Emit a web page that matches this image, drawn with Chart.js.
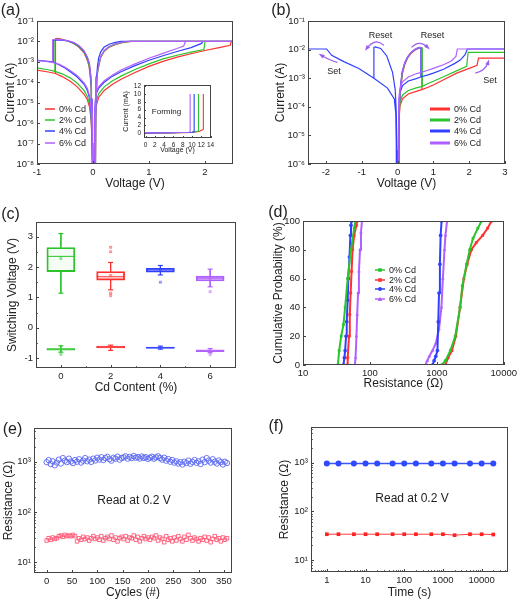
<!DOCTYPE html>
<html>
<head>
<meta charset="utf-8">
<script src="https://cdn.jsdelivr.net/npm/chart.js@4.4.1/dist/chart.umd.min.js"></script>
<style>
  body { margin: 0; background: #fff; }
  #page { position: relative; width: 520px; height: 602px; overflow: hidden; font-family: 'Liberation Sans', Arial, sans-serif; color: #222; }
  canvas { position: absolute; }
  .tx { position: absolute; white-space: nowrap; line-height: 1; transform: translate(-50%, -50%); }
  .lg { position: absolute; white-space: nowrap; line-height: 1; font-size: 9px; transform: translateY(-50%); }
  .lg svg { vertical-align: middle; margin-right: 4px; }
</style>
</head>
<body>
<div id="page">
  <canvas id="cA" width="260" height="200" style="left:0;top:0"></canvas>
  <canvas id="cIn" width="100" height="80" style="left:118px;top:78px"></canvas>
  <canvas id="cB" width="260" height="200" style="left:260px;top:0"></canvas>
  <canvas id="cC" width="260" height="200" style="left:0;top:200px"></canvas>
  <canvas id="cD" width="260" height="200" style="left:260px;top:200px"></canvas>
  <canvas id="cE" width="260" height="202" style="left:0;top:400px"></canvas>
  <canvas id="cF" width="260" height="202" style="left:260px;top:400px"></canvas>

  <div class="tx" style="left:10.5px;top:10px;font-size:16px">(a)</div>
  <div class="tx" style="left:281px;top:10px;font-size:16px">(b)</div>
  <div class="tx" style="left:10.5px;top:214px;font-size:16px">(c)</div>
  <div class="tx" style="left:278px;top:211.5px;font-size:16px">(d)</div>
  <div class="tx" style="left:12.5px;top:429px;font-size:16px">(e)</div>
  <div class="tx" style="left:276px;top:425.5px;font-size:16px">(f)</div>

  <div class="tx" style="left:166.5px;top:111.5px;font-size:8px">Forming</div>
  <div class="tx" style="left:380.5px;top:34.5px;font-size:9px">Reset</div>
  <div class="tx" style="left:432.5px;top:34.5px;font-size:9px">Reset</div>
  <div class="tx" style="left:334px;top:70.5px;font-size:9px">Set</div>
  <div class="tx" style="left:490px;top:80px;font-size:9px">Set</div>
  <div class="tx" style="left:134px;top:500px;font-size:12px">Read at 0.2 V</div>
  <div class="tx" style="left:412px;top:497.5px;font-size:12px">Read at 0.2 V</div>
</div>
<script>
Chart.defaults.font.family = "'Liberation Sans', Arial, sans-serif";
Chart.defaults.color = '#222';

const RED = '#ff3030', GREEN = '#2cc42c', BLUE = '#3040ff', PURPLE = '#b060ff';
const legendLabels = ['0% Cd', '2% Cd', '4% Cd', '6% Cd'];

// ---- (a) I-V, semilog ----
const aVTicks = [-1, 0, 1, 2];
const aITicks = [1e-8, 1e-7, 1e-6, 1e-5, 1e-4, 1e-3, 1e-2, 1e-1];
const aIV0 = [[-0.003,1e-9],[-0.008,1e-7],[-0.012,1e-6],[-0.02,1e-5],[-0.03,4e-5],[-0.045,1.5e-4],[-0.07,6e-4],[-0.1,1.2e-3],[-0.16,2.8e-3],[-0.25,5.2e-3],[-0.34,7.8e-3],[-0.45,1.05e-2],[-0.55,1.25e-2],[-0.63,1.4e-2],[-0.67,1.35e-2],[-0.67,2.7e-4], null,
  [-1.02,4e-4],[-0.8,3.2e-4],[-0.67,2.7e-4],[-0.55,1.9e-4],[-0.4,1.1e-4],[-0.28,6e-5],[-0.16,2.6e-5],[-0.1,1.4e-5],[-0.06,6e-6],[-0.035,1.5e-6],[-0.02,2e-7],[-0.01,1e-8],[-0.005,1e-9], null,
  [0.02,1e-9],[0.028,1e-7],[0.035,1e-6],[0.05,6e-6],[0.1,1.8e-5],[0.2,4e-5],[0.35,8e-5],[0.5,1.4e-4],[0.75,3e-4],[1.0,6e-4],[1.25,1.05e-3],[1.5,1.7e-3],[1.75,2.5e-3],[2.0,3.6e-3],[2.25,5e-3],[2.45,6.5e-3],[2.47,1e-2],[2.52,1e-2], null,
  [2.52,1e-2],[0.68,1e-2],[0.5,8.5e-3],[0.38,6.8e-3],[0.28,5e-3],[0.2,3.3e-3],[0.14,1.7e-3],[0.11,8e-4],[0.085,3.5e-4],[0.07,1.5e-4],[0.06,3e-5],[0.05,2e-6],[0.045,1e-7],[0.04,1e-9]];
const aIV2 = [[-0.003,1e-9],[-0.008,1e-7],[-0.012,1.2e-6],[-0.02,1.2e-5],[-0.03,5e-5],[-0.045,1.8e-4],[-0.07,7e-4],[-0.1,1.3e-3],[-0.16,3e-3],[-0.25,5.5e-3],[-0.34,8e-3],[-0.45,1.05e-2],[-0.55,1.2e-2],[-0.64,1.3e-2],[-0.68,1.25e-2],[-0.68,3.4e-4], null,
  [-1.02,5.2e-4],[-0.8,4.1e-4],[-0.68,3.4e-4],[-0.55,2.6e-4],[-0.4,1.6e-4],[-0.28,9e-5],[-0.16,4e-5],[-0.1,2e-5],[-0.06,8e-6],[-0.035,2e-6],[-0.02,3e-7],[-0.01,1e-8],[-0.005,1e-9], null,
  [0.018,1e-9],[0.026,1e-7],[0.033,1.5e-6],[0.05,1e-5],[0.1,2.7e-5],[0.2,6e-5],[0.35,1.2e-4],[0.5,2e-4],[0.75,4.2e-4],[1.0,8e-4],[1.25,1.4e-3],[1.5,2.1e-3],[1.75,3e-3],[1.98,4e-3],[2.0,1e-2],[2.52,1e-2], null,
  [2.52,1e-2],[0.66,1e-2],[0.5,8.7e-3],[0.38,7e-3],[0.28,5.2e-3],[0.2,3.4e-3],[0.14,1.8e-3],[0.11,8.5e-4],[0.085,3.8e-4],[0.07,1.6e-4],[0.06,3.5e-5],[0.05,2e-6],[0.045,1e-7],[0.04,1e-9]];
const aIV4 = [[-0.003,1e-9],[-0.007,1e-7],[-0.011,1.5e-6],[-0.018,1.5e-5],[-0.028,6e-5],[-0.04,2e-4],[-0.065,8e-4],[-0.1,1.6e-3],[-0.16,3.4e-3],[-0.25,6e-3],[-0.34,8.5e-3],[-0.45,1.05e-2],[-0.55,1.15e-2],[-0.65,1.2e-2],[-0.71,1.15e-2],[-0.71,1e-3], null,
  [-1.02,1.2e-3],[-0.85,1.1e-3],[-0.71,1e-3],[-0.6,7e-4],[-0.5,5e-4],[-0.4,3.2e-4],[-0.28,1.8e-4],[-0.16,8e-5],[-0.1,4e-5],[-0.06,1.6e-5],[-0.035,4e-6],[-0.02,4e-7],[-0.01,1e-8],[-0.005,1e-9], null,
  [0.015,1e-9],[0.022,1e-7],[0.03,3e-6],[0.05,2.5e-5],[0.1,5e-5],[0.2,1e-4],[0.35,2e-4],[0.5,3.3e-4],[0.75,6.5e-4],[1.0,1.2e-3],[1.25,2e-3],[1.5,3.2e-3],[1.75,5e-3],[1.94,8e-3],[1.96,1e-2],[2.52,1e-2], null,
  [2.52,1e-2],[0.5,1e-2],[0.4,9e-3],[0.3,7.5e-3],[0.2,5.3e-3],[0.14,3.2e-3],[0.1,1.5e-3],[0.08,6e-4],[0.065,2e-4],[0.055,4e-5],[0.045,2e-6],[0.04,1e-7],[0.035,1e-9]];
const aIV6 = [[-0.003,1e-9],[-0.007,1e-7],[-0.011,1.5e-6],[-0.018,1.6e-5],[-0.028,7e-5],[-0.04,2.2e-4],[-0.065,8.5e-4],[-0.1,1.7e-3],[-0.16,3.5e-3],[-0.25,6.2e-3],[-0.34,8.8e-3],[-0.45,1.1e-2],[-0.55,1.2e-2],[-0.65,1.25e-2],[-0.72,1.2e-2],[-0.72,9.5e-4], null,
  [-1.02,1.15e-3],[-0.85,1.05e-3],[-0.72,9.5e-4],[-0.6,7.5e-4],[-0.5,5.5e-4],[-0.4,3.7e-4],[-0.28,2.1e-4],[-0.16,9.5e-5],[-0.1,5e-5],[-0.06,2e-5],[-0.035,5e-6],[-0.02,5e-7],[-0.01,1e-8],[-0.005,1e-9], null,
  [0.015,1e-9],[0.022,1e-7],[0.03,3e-6],[0.05,3e-5],[0.1,6e-5],[0.2,1.2e-4],[0.35,2.3e-4],[0.5,4e-4],[0.75,8e-4],[1.0,1.5e-3],[1.25,2.6e-3],[1.5,4.5e-3],[1.62,6e-3],[1.65,1e-2],[2.52,1e-2], null,
  [2.52,1e-2],[0.62,1e-2],[0.5,9e-3],[0.38,7.3e-3],[0.28,5.5e-3],[0.2,3.6e-3],[0.14,1.9e-3],[0.11,9e-4],[0.085,4e-4],[0.07,1.7e-4],[0.06,3.5e-5],[0.05,2e-6],[0.045,1e-7],[0.04,1e-9]];

// inset: forming, linear mA
const inVTicks = [0, 2, 4, 6, 8, 10, 12, 14];
const inITicks = [0, 2, 4, 6, 8, 10, 12];
const inF0 = [[0,0.05],[5,0.08],[10,0.2],[11.5,0.45],[12.3,0.9],[12.45,1.0],[12.45,10]];
const inF2 = [[0,0.06],[5,0.1],[10,0.25],[11.1,0.5],[11.4,0.6],[11.4,10]];
const inF4 = [[0,0.1],[5,0.12],[10,0.25],[10.47,0.4],[10.47,10]];
const inF6 = [[0,0.1],[5,0.13],[9.3,0.25],[9.6,0.35],[9.6,10]];

// ---- (b) I-V, 4% Cd both polarities ----
const bVTicks = [-2, -1, 0, 1, 2, 3];
const bITicks = [1e-6, 1e-5, 1e-4, 1e-3, 1e-2, 1e-1];
const bIV0 = [[0.02,1e-7],[0.03,3e-6],[0.04,2e-5],[0.06,1.2e-4],[0.09,5e-4],[0.14,1.5e-3],[0.2,3e-3],[0.28,5e-3],[0.38,7.5e-3],[0.48,9.5e-3],[0.58,1.1e-2],[0.64,1.15e-2],[0.68,1.1e-2],[0.68,4e-4], null,
  [0.035,1e-7],[0.045,1e-5],[0.05,5e-5],[0.07,1.1e-4],[0.14,1.9e-4],[0.3,2.8e-4],[0.5,3.4e-4],[0.68,4e-4],[0.85,4.8e-4],[1.0,5.8e-4],[1.3,9e-4],[1.65,1.5e-3],[2.0,2.2e-3],[2.22,2.8e-3],[2.26,5e-3],[3.1,5e-3]];
const bIV2 = [[0.018,1e-7],[0.028,3e-6],[0.038,2.2e-5],[0.058,1.3e-4],[0.09,5.5e-4],[0.14,1.6e-3],[0.2,3.2e-3],[0.28,5.3e-3],[0.38,7.8e-3],[0.48,9.8e-3],[0.58,1.12e-2],[0.65,1.2e-2],[0.69,1.15e-2],[0.69,5.2e-4], null,
  [0.03,1e-7],[0.04,1.5e-5],[0.05,7e-5],[0.07,1.5e-4],[0.14,2.6e-4],[0.3,3.7e-4],[0.5,4.5e-4],[0.69,5.2e-4],[0.85,6.5e-4],[1.0,7.8e-4],[1.3,1.15e-3],[1.6,1.7e-3],[1.93,2.6e-3],[1.97,8e-3],[3.1,8e-3]];
const bIV4 = [[0.015,1e-7],[0.025,4e-6],[0.035,3e-5],[0.055,1.6e-4],[0.085,6e-4],[0.13,1.7e-3],[0.2,3.5e-3],[0.28,5.6e-3],[0.38,8e-3],[0.48,1e-2],[0.57,1.15e-2],[0.62,1.2e-2],[0.65,1.15e-2],[0.65,1.1e-3], null,
  [0.025,1e-7],[0.033,3e-5],[0.045,1.5e-4],[0.07,3.2e-4],[0.14,5.5e-4],[0.3,8e-4],[0.5,9.5e-4],[0.65,1.1e-3],[0.85,1.3e-3],[1.0,1.5e-3],[1.3,2.1e-3],[1.6,3.3e-3],[1.75,4.3e-3],[1.88,6.5e-3],[1.95,1.05e-2],[3.1,1.05e-2], null,
  [-0.025,1e-7],[-0.035,5e-6],[-0.05,6e-5],[-0.09,1.9e-4],[-0.28,4.5e-4],[-0.66,1e-3],[-1.08,2.2e-3],[-1.5,3.8e-3],[-1.84,6.3e-3],[-1.98,1.05e-2],[-2.6,1.05e-2], null,
  [-0.66,1e-3],[-0.66,1.2e-2],[-0.62,1.25e-2],[-0.47,1.1e-2],[-0.3,6e-3],[-0.14,1.6e-3],[-0.065,4e-4],[-0.035,6e-5],[-0.015,3e-6],[-0.008,1e-7]];
const bIV6 = [[0.016,1e-7],[0.026,3.5e-6],[0.036,2.5e-5],[0.056,1.5e-4],[0.088,6e-4],[0.135,1.7e-3],[0.2,3.4e-3],[0.28,5.5e-3],[0.38,8e-3],[0.48,1e-2],[0.57,1.15e-2],[0.63,1.2e-2],[0.66,1.15e-2],[0.66,1.6e-3], null,
  [0.022,1e-7],[0.03,4e-5],[0.04,2e-4],[0.07,4.5e-4],[0.14,7.5e-4],[0.3,1.1e-3],[0.5,1.4e-3],[0.66,1.6e-3],[0.85,1.9e-3],[1.0,2.2e-3],[1.3,3e-3],[1.5,4e-3],[1.63,5.8e-3],[1.67,1.05e-2],[3.1,1.05e-2]];
// curved hint arrows: [x0, y0, xc, yc, x1, y1] in data units
const bArrows = [[-0.38,1.4e-2,-0.63,2.7e-2,-0.86,1.1e-2],[0.39,1.2e-2,0.61,2.3e-2,0.84,1.2e-2],
                 [-1.68,3.6e-3,-1.87,4e-3,-2.13,6.3e-3],[2.17,1.5e-3,2.45,1.8e-3,2.53,3.6e-3]];

// ---- (c) switching voltage box plot ----
const cCd = [0, 2, 4, 6];
const cVTicks = [-1, 0, 1, 2, 3];
const cSetMin = [1.14, 1.25, 1.74, 1.35];
const cSetQ1  = [1.85, 1.57, 1.83, 1.54];
const cSetMed = [2.35, 1.68, 1.90, 1.63];
const cSetQ3  = [2.64, 1.85, 1.96, 1.70];
const cSetMax = [3.10, 2.15, 2.05, 1.93];
const cSetMean = [2.28, 1.72, 1.90, 1.62];
const cSetOut = [[], [2.65, 2.50, 1.14, 1.06], [1.50], [1.19]];
const cResMin = [-0.80, -0.74, -0.70, -0.82];
const cResQ1  = [-0.73, -0.66, -0.68, -0.78];
const cResMed = [-0.70, -0.63, -0.65, -0.75];
const cResQ3  = [-0.68, -0.60, -0.63, -0.72];
const cResMax = [-0.59, -0.57, -0.60, -0.68];
const cResOut = [[-0.87], [], [], [-0.88]];

// ---- (d) cumulative probability ----
const dRTicks = [10, 100, 1000, 10000];
const dPTicks = [0, 20, 40, 60, 80, 100];
const dLrs0 = [[33.2,0],[34.7,10],[37.2,20],[40.2,28],[42.6,40],[46.5,60],[52.1,80],[58.1,95],[60.8,100]];
const dLrs2 = [[45.5,0],[46.5,5],[48.7,20],[50,35],[51.5,50],[53.2,65],[55,80],[58.1,90],[62.9,97],[64.4,100]];
const dLrs4 = [[40.2,0],[41.5,5],[42.6,10],[44,20],[45,30],[46.5,45],[47.6,60],[49.5,75],[51,90],[52.1,97],[53.2,100]];
const dLrs6 = [[59.5,0],[61,5],[62.9,20],[64.5,35],[66.5,50],[68.5,65],[71.1,80],[73.5,92],[76,100]];
const dHrs0 = [[1180,0],[1340,3],[1590,10],[1880,20],[2220,40],[2400,55],[2780,70],[3100,80],[3470,88],[4100,95],[4650,100]];
const dHrs2 = [[1340,0],[1470,5],[1680,10],[1920,20],[2220,40],[2535,60],[2835,70],[3280,80],[3875,85],[4840,90],[5730,95],[6550,100]];
const dHrs4 = [[861,0],[910,3],[964,6],[1019,10],[1050,30],[1077,50],[1110,70],[1138,90],[1177,100]];
const dHrs6 = [[675,0],[720,3],[771,6],[860,10],[964,15],[1077,25],[1170,40],[1230,60],[1300,80],[1344,90],[1420,100]];

// ---- (e) endurance ----
const eCycleTicks = [0, 50, 100, 150, 200, 250, 300, 350];
const eRTicks = [10, 100, 1000];
const eCycles = Array.from({ length: 90 }, (_, i) => i * 4);
const eHrs = [980,1080,900,1020,850,960, 1100,920,1180,1050,980,1150,1010,
  940,1080,1000,1120,960,1050,1180,1020,1100,990,1150,1060,
  1200,1100,1230,1080,1180,1250,1120,1050,1200,1150,1260,1100,1190,
  1220,1280,1150,1250,1180,1300,1200,1240,1160,1270,1190,1230,1140,
  1200,1260,1150,1220,1280,1180,1100,1200,1050,1130,1000,1080,
  960,1020,920,980,880,1000,940,1050,910,990,1080,950,
  1020,900,1100,980,1180,1050,960,1120,1000,920,1060,980,880,1000,940];
const eLrs = [27,30,28,31,29,30, 33,34,32,35,33,34,33,
  35,33,26,30,28,32,29,31,27,30,33,29,
  31,28,33,27,30,32,29,34,28,31,26,30,32,
  29,33,27,31,30,34,28,32,26,30,33,29,31,
  28,32,30,34,27,31,29,25,33,28,30,26,
  31,27,33,29,26,32,28,35,30,27,31,29,
  26,30,28,32,27,31,25,29,33,28,30,26,31,28,30];

// ---- (f) retention ----
const fTimeTicks = [1, 10, 100, 1000, 10000];
const fRTicks = [10, 100, 1000];
const fTime = [1, 2, 5, 10, 20, 50, 100, 200, 500, 1000, 2000, 5000, 10000, 20000];
const fHrs = [960, 960, 960, 960, 960, 960, 960, 960, 960, 960, 960, 960, 960, 960];
const fLrs = [34, 34, 34, 34, 34, 34, 34, 34, 34, 34, 32.5, 34, 34, 33.5];

// ---------- helpers ----------
const SUP = { '-': '⁻', '0': '⁰', '1': '¹', '2': '²', '3': '³', '4': '⁴', '5': '⁵', '6': '⁶', '7': '⁷', '8': '⁸', '9': '⁹' };
const pow10 = v => '10' + String(Math.round(Math.log10(v))).replace(/./g, c => SUP[c]);
const xy = a => a.map(p => p ? { x: p[0], y: p[1] } : { x: null, y: null });
const logMinor = (lo, hi) => { const r = []; for (let d = 1e-9; d < hi; d *= 10) for (let k = 2; k < 10; k++) { const v = k * d; if (v > lo && v < hi) r.push(v); } return r; };

function axis(type, min, max, ticks, size, title, pad, fmt, fs, tfs) {
  return {
    type, min, max, bounds: 'data', offset: false,
    grid: { display: false, drawTicks: false },
    border: { display: false },
    afterBuildTicks: s => { s.ticks = ticks.map(v => ({ value: v })); },
    afterFit: s => { if (s.isHorizontal()) s.height = size; else s.width = size; },
    ticks: { autoSkip: false, maxRotation: 0, padding: 3, color: '#222', font: { size: fs || 9.5 }, callback: fmt || (v => v) },
    title: { display: !!title, text: title, color: '#222', font: { size: tfs || 12 }, padding: pad }
  };
}

const curve = (data, color, w) => ({ data: xy(data), showLine: true, borderColor: color, borderWidth: w || 1.2, pointRadius: 0, spanGaps: false, tension: 0 });

// frame + inward ticks, drawn from the chart's own scales
const frame = {
  id: 'frame',
  afterDatasetsDraw(chart, args, o) {
    const { ctx, chartArea: a } = chart;
    const x = chart.scales.x, y = chart.scales.y, L = o.len || 3;
    ctx.save();
    ctx.strokeStyle = '#444'; ctx.lineWidth = 1;
    ctx.beginPath();
    const tx = (v, len) => { if (v < x.min || v > x.max) return; const p = Math.round(x.getPixelForValue(v)) + 0.5; ctx.moveTo(p, a.bottom); ctx.lineTo(p, a.bottom - len); };
    const ty = (v, len) => { if (v < y.min || v > y.max) return; const p = Math.round(y.getPixelForValue(v)) + 0.5; ctx.moveTo(a.left, p); ctx.lineTo(a.left + len, p); };
    x.ticks.forEach(t => tx(t.value, L));
    y.ticks.forEach(t => ty(t.value, L));
    (o.mx || []).forEach(v => tx(v, L * 0.6));
    (o.my || []).forEach(v => ty(v, L * 0.6));
    ctx.stroke();
    ctx.strokeRect(Math.round(a.left) + 0.5, Math.round(a.top) + 0.5, Math.round(a.right - a.left) - 1, Math.round(a.bottom - a.top) - 1);
    ctx.restore();
  }
};
Chart.register(frame);

function make(id, type, datasets, sx, sy, pad, fr, extra) {
  return new Chart(document.getElementById(id), {
    type, data: { datasets },
    options: {
      responsive: false, animation: false, devicePixelRatio: 1, events: [],
      layout: { padding: pad },
      scales: { x: sx, y: sy },
      plugins: { legend: { display: false }, tooltip: { enabled: false }, frame: fr || {} }
    },
    plugins: extra || []
  });
}

const page = document.getElementById('page');
function legend(x, y, dy, w, thick, colors, marks) {
  legendLabels.forEach((t, i) => {
    const c = colors[i];
    let m = '';
    if (marks) {
      const cx = w / 2;
      if (marks[i] === 'circle') m = `<circle cx="${cx}" cy="3.5" r="2" fill="${c}"/>`;
      else if (marks[i] === 'triangle') m = `<polygon points="${cx - 2.3},5.5 ${cx + 2.3},5.5 ${cx},1.3" fill="${c}"/>`;
      else m = `<rect x="${cx - 1.8}" y="1.7" width="3.6" height="3.6" fill="${c}"/>`;
    }
    const d = document.createElement('div');
    d.className = 'lg';
    d.style.left = x + 'px';
    d.style.top = (y + i * dy) + 'px';
    d.innerHTML = `<svg width="${w}" height="7"><line x1="0" y1="3.5" x2="${w}" y2="3.5" stroke="${c}" stroke-width="${thick}"/>${m}</svg>${t}`;
    page.appendChild(d);
  });
}

// ---------- (a) ----------
const ivColors = [RED, GREEN, BLUE, PURPLE];
make('cA', 'scatter',
  [aIV0, aIV2, aIV4, aIV6].map((d, i) => Object.assign(curve(d, ivColors[i]), { order: 4 - i })),
  axis('linear', -1, 2.5, aVTicks, 36, 'Voltage (V)', { top: 0, bottom: 8.8 }),
  axis('logarithmic', 1e-8, 1e-1, aITicks, 37, 'Current (A)', { top: 3.8, bottom: 0 }, pow10),
  { top: 21, right: 27, left: 0, bottom: 0 });
legend(45, 108.5, 11.4, 10, 1.6, ivColors);

make('cIn', 'scatter',
  [inF0, inF2, inF4, inF6].map((d, i) => Object.assign(curve(d, ivColors[i], 1.1), { order: 4 - i })),
  axis('linear', -0.35, 14.1, inVTicks, 20, 'Voltage (V)', { top: 0, bottom: 3.5 }, null, 6.5, 7),
  axis('linear', -1.2, 12.3, inITicks, 26, 'Current (mA)', { top: 4.2, bottom: 0 }, null, 6.5, 7),
  { top: 6, right: 7, left: 0, bottom: 0 }, { len: 2 });

// ---------- (b) ----------
const arrowPlugin = {
  id: 'arrows',
  afterDatasetsDraw(chart) {
    const { ctx, scales: { x, y } } = chart;
    ctx.save();
    ctx.strokeStyle = '#9a5cf2'; ctx.fillStyle = '#9a5cf2'; ctx.lineWidth = 1.2;
    bArrows.forEach(r => {
      const p0 = [x.getPixelForValue(r[0]), y.getPixelForValue(r[1])];
      const pc = [x.getPixelForValue(r[2]), y.getPixelForValue(r[3])];
      const p1 = [x.getPixelForValue(r[4]), y.getPixelForValue(r[5])];
      ctx.beginPath(); ctx.moveTo(p0[0], p0[1]); ctx.quadraticCurveTo(pc[0], pc[1], p1[0], p1[1]); ctx.stroke();
      const ang = Math.atan2(p1[1] - pc[1], p1[0] - pc[0]);
      ctx.beginPath();
      ctx.moveTo(p1[0] + Math.cos(ang) * 3, p1[1] + Math.sin(ang) * 3);
      ctx.lineTo(p1[0] + Math.cos(ang + 2.5) * 3.5, p1[1] + Math.sin(ang + 2.5) * 3.5);
      ctx.lineTo(p1[0] + Math.cos(ang - 2.5) * 3.5, p1[1] + Math.sin(ang - 2.5) * 3.5);
      ctx.closePath(); ctx.fill();
    });
    ctx.restore();
  }
};
make('cB', 'scatter',
  [bIV0, bIV2, bIV4, bIV6].map((d, i) => Object.assign(curve(d, ivColors[i]), { order: 4 - i })),
  axis('linear', -2.5, 3, bVTicks, 36, 'Voltage (V)', { top: 0, bottom: 8.8 }),
  axis('logarithmic', 1e-6, 1e-1, bITicks, 48, 'Current (A)', { top: 13.5, bottom: 0 }, pow10),
  { top: 21, right: 15, left: 0, bottom: 0 }, {}, [arrowPlugin]);
legend(430, 108.5, 11.4, 20, 3, ivColors);

// ---------- (c) ----------
const boxColors = [GREEN, RED, BLUE, PURPLE];
const setFill = ['rgba(44,196,44,0.05)', 'rgba(255,48,48,0.05)', 'rgba(48,64,255,0.05)', 'rgba(176,96,255,0.3)'];
const cSets = [];
cCd.forEach((x, i) => {
  const col = boxColors[i];
  const gap = { x: null, y: null };
  cSets.push({ type: 'bar', data: [{ x, y: [cSetQ1[i], cSetQ3[i]] }, { x, y: [cResQ1[i], cResQ3[i]] }],
    backgroundColor: [setFill[i], col + '99'], borderColor: col, borderWidth: 1.2, borderSkipped: false, barThickness: 28, grouped: false });
  cSets.push({ type: 'scatter', showLine: true, pointRadius: 0, borderColor: col, borderWidth: 1, spanGaps: false,
    data: [{ x, y: cSetMax[i] }, { x, y: cSetQ3[i] }, gap, { x, y: cSetQ1[i] }, { x, y: cSetMin[i] }, gap,
           { x, y: cResMax[i] }, { x, y: cResQ3[i] }, gap, { x, y: cResQ1[i] }, { x, y: cResMin[i] }] });
  cSets.push({ type: 'scatter', pointStyle: 'line', pointRadius: 2.5, borderColor: col, pointBorderColor: col, pointBorderWidth: 1.2,
    data: [cSetMax, cSetMin, cResMax, cResMin].map(a => ({ x, y: a[i] })) });
  cSets.push({ type: 'scatter', pointStyle: 'line', pointRadius: 14, borderColor: col, pointBorderColor: col, pointBorderWidth: 1,
    data: [{ x, y: cSetMed[i] }, { x, y: cResMed[i] }] });
  cSets.push({ type: 'scatter', pointStyle: 'rect', pointRadius: 1.5, backgroundColor: col + '55', borderColor: col + '88', pointBorderWidth: 0.8,
    data: [cSetMean[i], ...cSetOut[i], ...cResOut[i]].map(y => ({ x, y })) });
});
make('cC', 'bar', cSets,
  axis('linear', -1, 7.04, cCd, 32, 'Cd Content (%)', { top: 0, bottom: 5.5 }),
  axis('linear', -1.32, 3.48, cVTicks, 36, 'Switching Voltage (V)', { top: 5.1, bottom: 0 }),
  { top: 22, right: 24, left: 0, bottom: 0 }, { my: [-0.5, 0.5, 1.5, 2.5], mx: [1, 3, 5] });

// ---------- (d) ----------
const dColors = [GREEN, RED, BLUE, PURPLE];
const dMarks = ['rect', 'rect', 'circle', 'triangle'];
const dSets = [];
[[dLrs0, dHrs0], [dLrs2, dHrs2], [dLrs4, dHrs4], [dLrs6, dHrs6]].forEach((pair, i) => {
  pair.forEach(arr => dSets.push({ data: xy(arr), showLine: true, borderColor: dColors[i], borderWidth: 2, tension: 0,
    pointStyle: dMarks[i], pointRadius: 1.6, pointBackgroundColor: dColors[i], pointBorderColor: dColors[i], pointBorderWidth: 0.5 }));
});
make('cD', 'scatter', dSets,
  axis('logarithmic', 10, 10000, dRTicks, 35, 'Resistance (Ω)', { top: 0, bottom: 9.5 }),
  axis('linear', 0, 100, dPTicks, 43, 'Cumulative Probability (%)', { top: 11.3, bottom: 0 }),
  { top: 21, right: 13, left: 0, bottom: 0 });
legend(375, 270, 9.5, 10, 1.5, dColors, dMarks);

// ---------- (e) ----------
make('cE', 'scatter', [
    { data: eCycles.map((c, i) => ({ x: c, y: eHrs[i] })), pointStyle: 'circle', pointRadius: 2.7, pointBorderWidth: 0.9, borderColor: '#5a68f0', backgroundColor: 'rgba(0,0,0,0)' },
    { data: eCycles.map((c, i) => ({ x: c, y: eLrs[i] })), pointStyle: 'rect', pointRadius: 2.5, pointBorderWidth: 0.9, borderColor: '#ff5a78', backgroundColor: 'rgba(0,0,0,0)' }
  ],
  axis('linear', -25, 366, eCycleTicks, 29, 'Cycles (#)', { top: 0, bottom: 1.8 }),
  axis('logarithmic', 6.1, 4690, eRTicks, 34, 'Resistance (Ω)', { top: 1.8, bottom: 0 }, pow10),
  { top: 28, right: 28, left: 0, bottom: 0 }, { my: logMinor(6.1, 4690) });

// ---------- (f) ----------
make('cF', 'scatter', [
    { data: fTime.map((t, i) => ({ x: t, y: fHrs[i] })), showLine: true, borderColor: '#3a55ff', borderWidth: 1.5, pointStyle: 'circle', pointRadius: 3, pointBackgroundColor: '#2f49ff', pointBorderWidth: 0 },
    { data: fTime.map((t, i) => ({ x: t, y: fLrs[i] })), showLine: true, borderColor: '#ff3a3a', borderWidth: 1, pointStyle: 'rect', pointRadius: 2.6, pointBackgroundColor: '#ff2020', pointBorderWidth: 0 }
  ],
  axis('logarithmic', 0.39, 48000, fTimeTicks, 30, 'Time (s)', { top: 0, bottom: 2.5 }),
  axis('logarithmic', 5.7, 5400, fRTicks, 51, 'Resistance (Ω)', { top: 17.5, bottom: 0 }, pow10),
  { top: 27, right: 12, left: 0, bottom: 0 }, { mx: logMinor(0.39, 48000), my: logMinor(5.7, 5400) });
</script>
</body>
</html>
